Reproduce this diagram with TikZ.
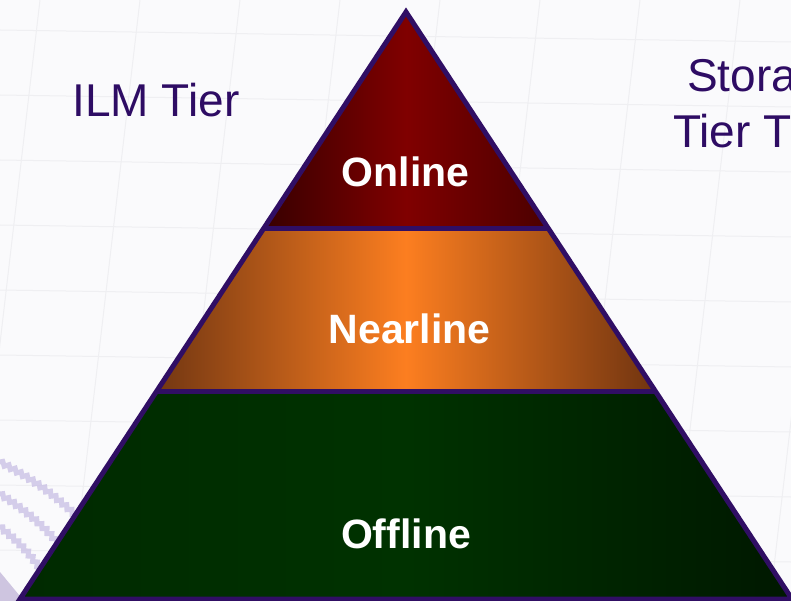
\documentclass[tikz,border=0pt]{standalone}
\usepackage{fontspec}
\setmainfont{Liberation Sans}
\usetikzlibrary{decorations.pathmorphing}
\definecolor{edgepurple}{RGB}{48,14,100}
\definecolor{labelpurple}{RGB}{46,12,100}
\definecolor{bgwhite}{RGB}{250,250,252}
\definecolor{gridgray}{RGB}{239,239,242}
\definecolor{strand}{RGB}{200,190,228}
\definecolor{onL}{RGB}{55,0,0}
\definecolor{onM}{RGB}{128,0,0}
\definecolor{onR}{RGB}{75,0,0}
\definecolor{neL}{RGB}{115,55,18}
\definecolor{neM}{RGB}{252,126,32}
\definecolor{neR}{RGB}{112,52,16}
\definecolor{ofL}{RGB}{0,42,0}
\definecolor{ofM}{RGB}{0,50,0}
\definecolor{ofR}{RGB}{0,24,0}
\tikzset{
  tierlabel/.style={text=white, font=\bfseries\fontsize{41}{48}\selectfont, inner sep=0pt, anchor=base},
  sidelabel/.style={text=labelpurple, font=\fontsize{46}{54}\selectfont, inner sep=0pt},
  outline/.style={draw=edgepurple, line width=5pt, line join=miter},
  gridline/.style={draw=gridgray, line width=1pt},
  strandline/.style={draw=strand, line width=5pt, line cap=round, opacity=0.75, decorate,
    decoration={snake, amplitude=1.8pt, segment length=7pt}}
}
\begin{document}
\begin{tikzpicture}[x=1pt, y=-1pt]
\useasboundingbox (0,0) rectangle (791,601);
\clip (0,0) rectangle (791,601);
\fill[bgwhite] (0,0) rectangle (791,601);
% faint background grid
\foreach \y in {30,95,160,225,290,355,420,485,550} {
  \draw[gridline] (0,\y) -- (791,\y+12);
}
\foreach \x in {-60,40,140,240,340,440,540,640,740,840} {
  \draw[gridline] (\x,0) -- (\x-70,601);
}
% wavy strands bottom-left
\draw[strandline] (0,462) to[bend left=8] (80,520);
\draw[strandline] (0,494) to[bend left=8] (62,548);
\draw[strandline] (0,527) to[bend left=8] (42,572);
\fill[strand!80!edgepurple, opacity=0.55] (0,572) -- (24,601) -- (0,601) -- cycle;

% key points
\coordinate (apex) at (406,12);
\coordinate (bl) at (20,599);
\coordinate (br) at (792,599);
\coordinate (l1) at (263.3,229);
\coordinate (r1) at (548.7,229);
\coordinate (l2) at (156.8,391);
\coordinate (r2) at (655.2,391);

% bands
\shade[left color=onL, right color=onR, middle color=onM] (apex) -- (r1) -- (l1) -- cycle;
\shade[left color=neL, right color=neR, middle color=neM] (l1) -- (r1) -- (r2) -- (l2) -- cycle;
\shade[left color=ofL, right color=ofR, middle color=ofM] (l2) -- (r2) -- (br) -- (bl) -- cycle;

% outlines
\draw[outline] (apex) -- (br) -- (bl) -- cycle;
\draw[outline] (l1) -- (r1);
\draw[outline] (l2) -- (r2);

% tier labels
\node[tierlabel] (online) at (405.5,187) {Online};
\node[tierlabel] (nearline) at (409.5,343) {Nearline};
\node[tierlabel] (offline) at (406,548) {Offline};

% side labels
\node[sidelabel, anchor=base] (ilm) at (156,117) {ILM Tier};
\node[sidelabel, anchor=base west] (stora) at (687,92) {Stora};
\node[sidelabel, anchor=base west] (tiert) at (673,148) {Tier T};
\end{tikzpicture}
\end{document}
